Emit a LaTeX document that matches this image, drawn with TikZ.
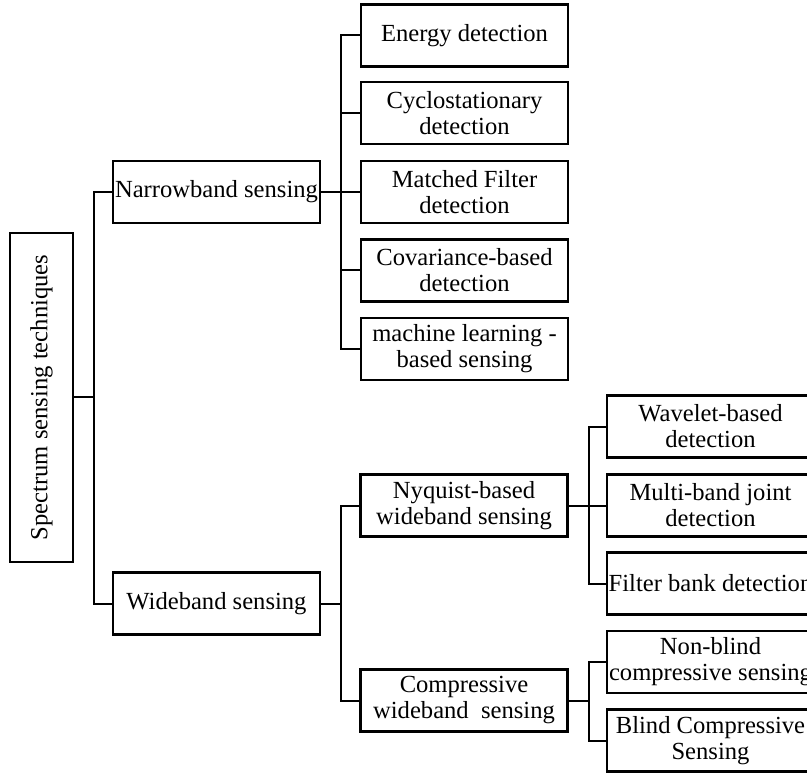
\documentclass[tikz,border=0pt]{standalone}
\usepackage{fontspec}
\setmainfont{Liberation Serif}
\begin{document}
\begin{tikzpicture}[x=0.5pt,y=-0.5pt,font=\fontsize{12.3}{13}\selectfont]
	\tikzset{box/.style={draw,line width=1.2pt,align=center,inner sep=1pt,minimum width=103.5pt,minimum height=31pt},
		link/.style={line width=1pt}}
	\useasboundingbox (0,0) rectangle (807,774);
	\clip (0,0) rectangle (807,774);
	\node[box,rotate=90,minimum width=164.5pt,minimum height=31.5pt] (root) at (41.5,397.5) {Spectrum sensing techniques};
	\node[box] (nb) at (216.5,192) {Narrowband sensing};
	\node[box] (wb) at (216.5,603.5) {Wideband sensing};
	% narrowband methods
	\node[box] (ed) at (464.5,35.5) {Energy detection};
	\node[box] (cd) at (464.5,113) {Cyclostationary\\detection};
	\node[box] (mf) at (464.5,192) {Matched Filter\\detection};
	\node[box] (cv) at (464.5,270.5) {Covariance-based\\detection};
	\node[box] (ml) at (464.5,349) {machine learning -\\based sensing};
	% wideband methods
	\node[box] (nq) at (464,505.5) {Nyquist-based\\wideband sensing};
	\node[box] (cw) at (464,700.5) {Compressive\\wideband \ sensing};
	\node[box] (wv) at (710.5,426.5) {Wavelet-based\\detection};
	\node[box] (mb) at (710.5,505.5) {Multi-band joint\\detection};
	\node[box] (fb) at (710.5,583.5) {Filter bank detection};
	\node[box] (nbcs) at (710.5,662) {Non-blind\\compressive sensing};
	\node[box] (bcs) at (710.5,740.5) {Blind Compressive\\Sensing};
	% connectors
	\draw[link] (root.south) -- ++(20,0) coordinate (j0);
	\foreach \c in {nb,wb}\draw[link] (j0) |- (\c.west);
	\draw[link] (nb.east) -- ++(20,0) coordinate (j1);
	\foreach \c in {ed,cd,mf,cv,ml}\draw[link] (j1) |- (\c.west);
	\draw[link] (wb.east) -- ++(20,0) coordinate (j2);
	\foreach \c in {nq,cw}\draw[link] (j2) |- (\c.west);
	\draw[link] (nq.east) -- ++(20,0) coordinate (j3);
	\foreach \c in {wv,mb,fb}\draw[link] (j3) |- (\c.west);
	\draw[link] (cw.east) -- ++(20,0) coordinate (j4);
	\foreach \c in {nbcs,bcs}\draw[link] (j4) |- (\c.west);
\end{tikzpicture}
\end{document}
